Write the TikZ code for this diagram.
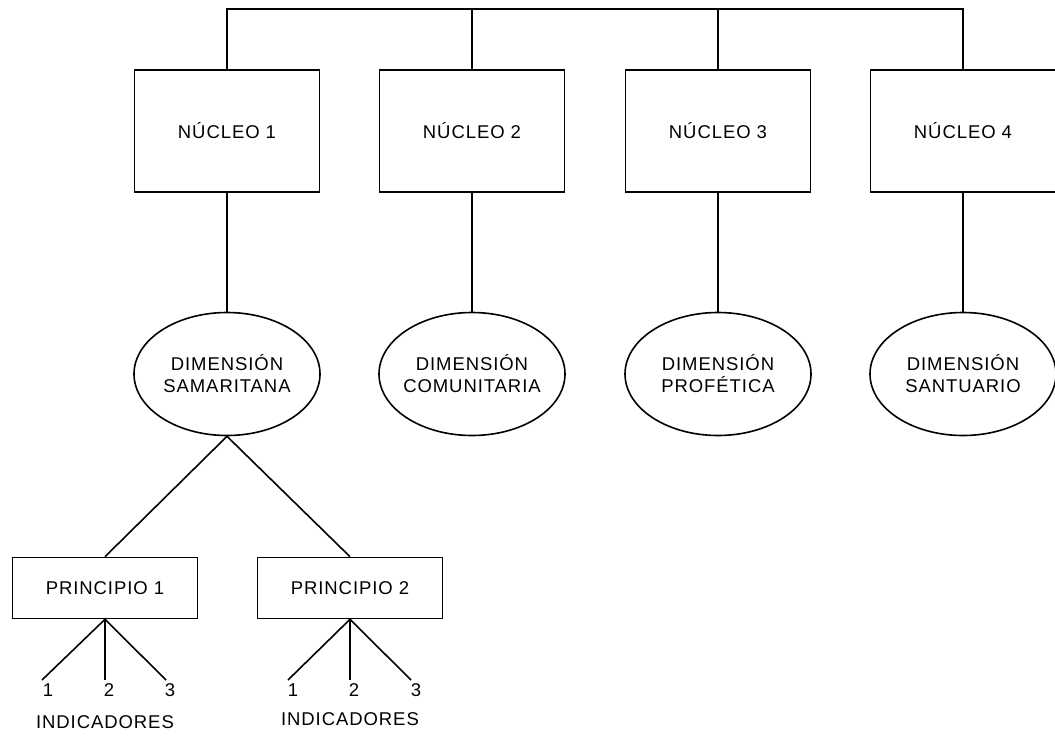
\documentclass[tikz,border=0pt]{standalone}
\usepackage{fontspec}
\setmainfont[LetterSpace=5]{Liberation Sans}
\usetikzlibrary{shapes.geometric}
\begin{document}
\begin{tikzpicture}[x=1pt, y=-1pt, line width=1.6pt,
    nucleo/.style={draw, rectangle, minimum width=185pt, minimum height=122pt, font=\fontsize{18.5}{22}\selectfont},
    dimension/.style={draw, ellipse, inner xsep=-12pt, minimum width=186pt, minimum height=123pt, align=center, font=\fontsize{18.5}{22}\selectfont},
    principio/.style={draw, rectangle, minimum width=185pt, minimum height=61pt, font=\fontsize{18.5}{22}\selectfont},
    etiqueta/.style={inner sep=0pt, font=\fontsize{18.5}{22}\selectfont}]
    \useasboundingbox (0, 0) rectangle (1055, 736);

    \coordinate (t1) at (227, 9);
    \coordinate (t4) at (963, 9);
    \node[nucleo] (n1) at (227, 131) {NÚCLEO 1};
    \node[nucleo] (n2) at (472, 131) {NÚCLEO 2};
    \node[nucleo] (n3) at (718, 131) {NÚCLEO 3};
    \node[nucleo] (n4) at (963, 131) {NÚCLEO 4};

    \node[dimension] (d1) at (227, 374) {DIMENSIÓN\\SAMARITANA};
    \node[dimension] (d2) at (472, 374) {DIMENSIÓN\\COMUNITARIA};
    \node[dimension] (d3) at (718, 374) {DIMENSIÓN\\PROFÉTICA};
    \node[dimension] (d4) at (963, 374) {DIMENSIÓN\\SANTUARIO};

    \node[principio] (p1) at (105, 588) {PRINCIPIO 1};
    \node[principio] (p2) at (350, 588) {PRINCIPIO 2};

    \node[etiqueta] (p1i1) at (48, 690) {1};
    \node[etiqueta] (p1i2) at (109, 690) {2};
    \node[etiqueta] (p1i3) at (170, 690) {3};
    \node[etiqueta] (p2i1) at (293, 690) {1};
    \node[etiqueta] (p2i2) at (354, 690) {2};
    \node[etiqueta] (p2i3) at (416, 690) {3};
    \coordinate (c11) at (42, 680);
    \coordinate (c12) at (105, 680);
    \coordinate (c13) at (166, 680);
    \coordinate (c21) at (288, 680);
    \coordinate (c22) at (350, 680);
    \coordinate (c23) at (411, 680);

    \node[etiqueta] (ind1) at (105, 722) {INDICADORES};
    \node[etiqueta] (ind2) at (350, 719) {INDICADORES};

    \draw (n1.north) -- (t1) -- (t4) -- (n4.north);
    \draw (n2.north) -- (n2.north |- t1);
    \draw (n3.north) -- (n3.north |- t1);

    \draw (n1) -- (d1);
    \draw (n2) -- (d2);
    \draw (n3) -- (d3);
    \draw (n4) -- (d4);

    \draw (d1.south) -- (p1.north);
    \draw (d1.south) -- (p2.north);

    \draw (p1.south) -- (c11);
    \draw (p1.south) -- (c12);
    \draw (p1.south) -- (c13);
    \draw (p2.south) -- (c21);
    \draw (p2.south) -- (c22);
    \draw (p2.south) -- (c23);
\end{tikzpicture}
\end{document}
